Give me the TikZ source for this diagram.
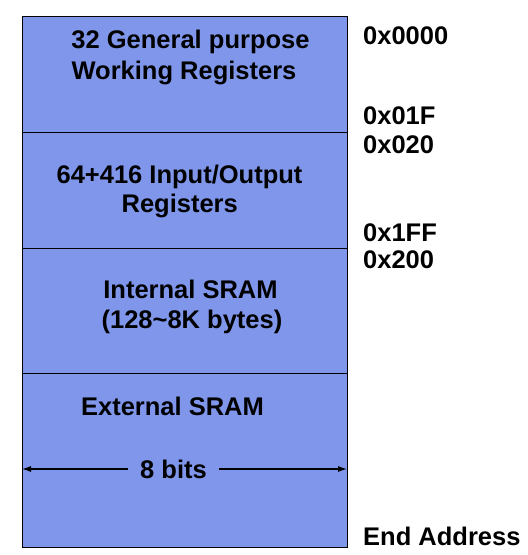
\documentclass[tikz,border=0pt]{standalone}
\usepackage{fontspec}
\setmainfont{Liberation Sans}
\usetikzlibrary{arrows.meta}
\definecolor{memblue}{RGB}{127,150,235}
\begin{document}
\begin{tikzpicture}[x=1pt,y=-1pt,
  lbl/.style={font=\fontsize{25.5}{25.5}\selectfont\bfseries, inner sep=0pt, anchor=base},
  addr/.style={font=\fontsize{25.5}{25.5}\selectfont\bfseries, inner sep=0pt, anchor=base west},
  region/.style={fill=memblue, draw=black, line width=0.8pt},
  dimarrow/.style={-{Latex[length=9pt,width=6pt]}, line width=1.1pt}]
\useasboundingbox (0,0) rectangle (528,555);
\draw[region] (22,16) rectangle (347,132);
\draw[region] (22,132) rectangle (347,248);
\draw[region] (22,248) rectangle (347,373);
\draw[region] (22,373) rectangle (347,547);
\node[lbl] (t1a) at (190.5,48) {32 General purpose};
\node[lbl] (t1b) at (184,79) {Working Registers};
\node[lbl] (t2a) at (179.5,183) {64+416 Input/Output};
\node[lbl] (t2b) at (179.7,212) {Registers};
\node[lbl] (t3a) at (190.5,298) {Internal SRAM};
\node[lbl] (t3b) at (192,328) {(128\char`\~8K bytes)};
\node[lbl] (t4a) at (172.5,415) {External SRAM};
\node[lbl, inner xsep=12pt] (bits) at (173.5,478) {8 bits};
\coordinate (bl) at (22,469);
\coordinate (br) at (347,469);
\draw[dimarrow] (bits.west |- bl) -- (bl);
\draw[dimarrow] (bits.east |- br) -- (br);
\node[addr] (a1) at (363,44) {0x0000};
\node[addr] (a2) at (363,124) {0x01F};
\node[addr] (a3) at (363,153) {0x020};
\node[addr] (a4) at (363,241) {0x1FF};
\node[addr] (a5) at (363,268) {0x200};
\node[addr] (a6) at (363,545) {End Address};
\end{tikzpicture}
\end{document}
